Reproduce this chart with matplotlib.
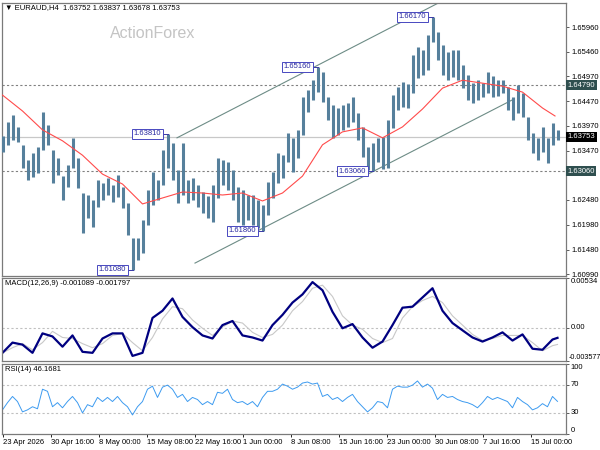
import numpy as np
import matplotlib
matplotlib.use('Agg')
import matplotlib.pyplot as plt
from matplotlib.transforms import blended_transform_factory

plt.rcParams['font.family'] = ['Liberation Sans', 'DejaVu Sans']

# EURAUD H4, one entry per group of ~3 bars
bar_high = [1.6377, 1.6405, 1.6419, 1.6395, 1.6359, 1.6328, 1.6342, 1.6355, 1.6425, 1.6399,
            1.6349, 1.6332, 1.6296, 1.6318, 1.6373, 1.6332, 1.6262, 1.6258, 1.6248, 1.6288,
            1.6282, 1.6292, 1.6278, 1.6298, 1.6274, 1.6242, 1.6171, 1.6171, 1.6208, 1.6268,
            1.6304, 1.6288, 1.6349, 1.6381, 1.6363, 1.6308, 1.6363, 1.6288, 1.6292, 1.6278,
            1.6264, 1.6256, 1.6278, 1.6332, 1.6328, 1.6324, 1.6308, 1.6274, 1.6268, 1.6258,
            1.6258, 1.6248, 1.6238, 1.6284, 1.6304, 1.6342, 1.6338, 1.6383, 1.6373, 1.6389,
            1.6455, 1.6469, 1.6489, 1.6516, 1.6505, 1.6455, 1.6439, 1.6433, 1.6439, 1.6443,
            1.6455, 1.6423, 1.6395, 1.6355, 1.6363, 1.6373, 1.6375, 1.6409, 1.6459, 1.6475,
            1.6485, 1.6481, 1.6540, 1.6556, 1.6550, 1.6580, 1.6617, 1.6586, 1.6560, 1.6546,
            1.6550, 1.6550, 1.6520, 1.6499, 1.6483, 1.6489, 1.6483, 1.6505, 1.6497, 1.6489,
            1.6489, 1.6475, 1.6455, 1.6479, 1.6463, 1.6415, 1.6383, 1.6373, 1.6395, 1.6373,
            1.6403, 1.6389]
bar_low = [1.6345, 1.6359, 1.6369, 1.6365, 1.6312, 1.6288, 1.6294, 1.6302, 1.6349, 1.6359,
           1.6282, 1.6298, 1.6248, 1.6274, 1.6312, 1.6272, 1.6182, 1.6212, 1.6194, 1.6234,
           1.6248, 1.6258, 1.6244, 1.6254, 1.6232, 1.6178, 1.6108, 1.6127, 1.6141, 1.6198,
           1.6238, 1.6248, 1.6278, 1.6312, 1.6288, 1.6242, 1.6258, 1.6242, 1.6248, 1.6234,
           1.6222, 1.6212, 1.6204, 1.6252, 1.6278, 1.6268, 1.6248, 1.6204, 1.6198, 1.6208,
           1.6198, 1.6192, 1.6186, 1.6218, 1.6252, 1.6282, 1.6292, 1.6324, 1.6304, 1.6332,
           1.6379, 1.6425, 1.6449, 1.6465, 1.6445, 1.6409, 1.6373, 1.6379, 1.6389, 1.6395,
           1.6405, 1.6369, 1.6334, 1.6308, 1.6306, 1.6324, 1.6310, 1.6312, 1.6393, 1.6429,
           1.6435, 1.6433, 1.6463, 1.6493, 1.6499, 1.6509, 1.6566, 1.6530, 1.6499, 1.6489,
           1.6495, 1.6489, 1.6473, 1.6449, 1.6443, 1.6449, 1.6455, 1.6463, 1.6455, 1.6457,
           1.6463, 1.6429, 1.6409, 1.6423, 1.6415, 1.6369, 1.6342, 1.6328, 1.6345, 1.6322,
           1.6359, 1.6369]

# red moving average, sampled every 4 groups
ma_pos = list(range(0, 112, 4)) + [110.5]
ma_val = [1.6459, 1.6427, 1.6389, 1.6367, 1.6338, 1.6300, 1.6280, 1.6240, 1.6252, 1.6264,
          1.6262, 1.6258, 1.6262, 1.6246, 1.6262, 1.6296, 1.6359, 1.6385, 1.6393, 1.6373,
          1.6395, 1.6431, 1.6473, 1.6489, 1.6483, 1.6477, 1.6465, 1.6433, 1.6417]

# channel and levels
chan_up_x, chan_up_y = [34.9, 87.5], [1.6373, 1.6646]
chan_dn_x, chan_dn_y = [38.5, 101.9], [1.6121, 1.6449]
levels = [1.6479, 1.6306]
last_price = 1.63753
marks = [(33, 1.6381, '1.63810'), (26, 1.6108, '1.61080'), (52, 1.6186, '1.61860'),
         (63, 1.6516, '1.65160'), (74, 1.6306, '1.63060'), (86, 1.6617, '1.66170')]

price_ticks = [1.6596, 1.6546, 1.6497, 1.6447, 1.6397, 1.6347, 1.6298, 1.6248, 1.6198, 1.6148, 1.6099]

# MACD(12,26,9), sampled every 2 groups
macd_pos = list(range(0, 112, 2)) + [111]
macd_main = [-0.00270, -0.00160, -0.00182, -0.00270, -0.00061, -0.00094, -0.00204, -0.00083, -0.00259, -0.00270,
             -0.00116, -0.00061, -0.00061, -0.00303, -0.00270, 0.00105, 0.00182, 0.00314, 0.00116, 0.00006,
             -0.00083, -0.00116, 0.00028, 0.00072, -0.00083, -0.00105, -0.00138, 0.00028, 0.00138, 0.00270,
             0.00358, 0.00490, 0.00402, 0.00171, -0.00006, 0.00039, -0.00105, -0.00215, -0.00149, 0.00028,
             0.00215, 0.00226, 0.00325, 0.00424, 0.00182, 0.00050, -0.00028, -0.00105, -0.00149, -0.00105,
             -0.00050, -0.00138, -0.00072, -0.00226, -0.00237, -0.00127, -0.00109]
macd_signal = [-0.00270, -0.00215, -0.00171, -0.00237, -0.00160, -0.00039, -0.00105, -0.00116, -0.00171, -0.00215,
               -0.00171, -0.00083, -0.00061, -0.00160, -0.00248, -0.00105, 0.00094, 0.00226, 0.00204, 0.00083,
               -0.00006, -0.00083, 0.00006, 0.00072, 0.00050, -0.00050, -0.00105, -0.00072, 0.00028, 0.00182,
               0.00281, 0.00424, 0.00457, 0.00336, 0.00127, 0.00028, -0.00017, -0.00116, -0.00160, -0.00116,
               0.00105, 0.00226, 0.00292, 0.00336, 0.00270, 0.00127, 0.00028, -0.00072, -0.00138, -0.00116,
               -0.00083, -0.00083, -0.00083, -0.00160, -0.00248, -0.00193, -0.00180]

# RSI(14), one per group
rsi = [34, 44.4, 53.3, 46, 31.1, 34, 38.5, 35.6, 63.7, 60.7,
       38.5, 44.4, 37, 46, 53.3, 44.4, 29.6, 41.5, 38.5, 51.9,
       46, 51.9, 46, 53.3, 44.4, 38.5, 26.7, 38.5, 46, 63.7,
       68.1, 51.9, 66.7, 69.6, 63.7, 51.9, 56.3, 46, 51.9, 48.9,
       41.5, 46, 41.5, 59.3, 57.8, 63.7, 48.9, 44.4, 46, 41.5,
       46, 38.5, 51.9, 60.7, 60.7, 63.7, 71.1, 68.1, 63.7, 66.7,
       72.6, 74.1, 71.1, 72.6, 53.3, 56.3, 48.9, 51.9, 46, 51.9,
       56.3, 46, 38.5, 31.1, 37, 46, 44.4, 37, 63.7, 68.1,
       66.7, 66.7, 69.6, 75.6, 66.7, 71.1, 65.2, 48.9, 56.3, 51.9,
       53.3, 48.9, 46, 44.4, 41.5, 37, 44.4, 53.3, 48.9, 51.9,
       48.9, 46, 37, 51.9, 46, 41.5, 34, 37, 43, 38.5,
       53.3, 46.2]

date_labels = ['23 Apr 2026', '30 Apr 16:00', '8 May 00:00', '15 May 08:00', '22 May 16:00',
               '1 Jun 00:00', '8 Jun 08:00', '15 Jun 16:00', '23 Jun 00:00', '30 Jun 08:00',
               '7 Jul 16:00', '15 Jul 00:00']

FS = 5.5
frame = '#7a7a7a'
x = np.arange(len(bar_high))

fig = plt.figure(figsize=(6, 4.5), dpi=100)
ax = fig.add_axes([2/600, 1-276/450, 564/600, 273/450])
ax_m = fig.add_axes([2/600, 1-361/450, 564/600, 83/450], sharex=ax)
ax_r = fig.add_axes([2/600, 1-433.5/450, 564/600, 69.5/450], sharex=ax)

for a in (ax, ax_m, ax_r):
    for s in a.spines.values():
        s.set_color(frame)
        s.set_linewidth(0.9)
    a.yaxis.tick_right()
    a.tick_params(axis='y', length=2.5, width=0.6, color='#404040', labelsize=FS, pad=1.5)
    a.tick_params(axis='x', length=0, labelbottom=False)

# price panel
ax.axhline(last_price, color='#c8c8c8', lw=0.9, zorder=1)
for lv in levels:
    ax.axhline(lv, color='#808080', lw=0.8, ls=(0, (2, 2)), zorder=1)
ax.plot(chan_up_x, chan_up_y, color='#6d8c86', lw=0.8, zorder=2)
ax.plot(chan_dn_x, chan_dn_y, color='#6d8c86', lw=0.8, zorder=2)
ax.vlines(x, bar_low, bar_high, color='#56809c', lw=2.2, zorder=3)
ax.plot(ma_pos, ma_val, color='#ff4b4b', lw=0.8, zorder=4)

for i, p, t in marks:
    ax.plot([i - 1.3, i], [p, p], color='#3a3aa8', lw=0.7, zorder=5)
    ax.text(i - 1.3, p, t, ha='right', va='center', fontsize=FS, color='#2828a0', zorder=6,
            bbox=dict(boxstyle='square,pad=0.2', fc='white', ec='#4848c0', lw=0.7))

ax.set_xlim(-0.1, 112.7)
ax.set_ylim(1.6095, 1.66443)
ax.set_yticks(price_ticks)
# 1.62980 sits under the 1.63060 level box in the reference
ax.set_yticklabels(['' if abs(v - 1.6298) < 1e-6 else '%.5f' % v for v in price_ticks])

tr = blended_transform_factory(ax.transAxes, ax.transData)
for p, t, bg in [(1.6479, '1.64790', '#2f4f4f'), (last_price, '1.63753', 'black'), (1.6306, '1.63060', '#2f4f4f')]:
    ax.text(1.003, p, t, transform=tr, ha='left', va='center', fontsize=FS, color='white', clip_on=False,
            bbox=dict(boxstyle='square,pad=0.18', fc=bg, ec='none'))

ax.text(0.006, 0.985, '\u25bc EURAUD,H4  1.63752 1.63837 1.63678 1.63753', transform=ax.transAxes,
        ha='left', va='center', fontsize=FS, color='black')
ax.text(0.268, 0.89, 'ActionForex', transform=ax.transAxes, ha='center', va='center',
        fontsize=11.5, color='#c4c4c4')

# MACD panel
ax_m.axhline(0, color='#c0c0c0', lw=0.8, ls=(0, (2, 2)))
ax_m.plot(macd_pos, macd_signal, color='#c8c8c8', lw=0.8)
ax_m.plot(macd_pos, macd_main, color='#000080', lw=1.6)
ax_m.set_ylim(-0.003577, 0.00534)
ax_m.set_yticks([0.00534, 0, -0.003577])
ax_m.set_yticklabels([])
trm = blended_transform_factory(ax_m.transAxes, ax_m.transData)
ax_m.text(1.008, 0.00534, '0.00534', transform=trm, ha='left', va='top', fontsize=FS)
ax_m.text(1.008, 0, '0.00', transform=trm, ha='left', va='center', fontsize=FS)
ax_m.text(1.004, -0.003577, '-0.003577', transform=trm, ha='left', va='bottom', fontsize=5.2)
ax_m.text(0.006, 0.928, 'MACD(12,26,9) -0.001089 -0.001797', transform=ax_m.transAxes,
          ha='left', va='center', fontsize=FS)

# RSI panel
for lv in (70, 30):
    ax_r.axhline(lv, color='#c0c0c0', lw=0.8, ls=(0, (2, 2)))
ax_r.plot(x, rsi, color='#3d9bf0', lw=0.7)
ax_r.set_ylim(0, 100)
ax_r.set_yticks([100, 70, 30, 0])
ax_r.set_yticklabels([])
trr = blended_transform_factory(ax_r.transAxes, ax_r.transData)
ax_r.text(1.008, 100, '100', transform=trr, ha='left', va='top', fontsize=FS)
ax_r.text(1.008, 70, '70', transform=trr, ha='left', va='center', fontsize=FS)
ax_r.text(1.008, 30, '30', transform=trr, ha='left', va='center', fontsize=FS)
ax_r.text(1.008, 0, '0', transform=trr, ha='left', va='bottom', fontsize=FS)
ax_r.text(0.006, 0.928, 'RSI(14) 46.1681', transform=ax_r.transAxes,
          ha='left', va='center', fontsize=FS)

ax_r.set_xticks(0.1 + 9.6 * np.arange(len(date_labels)))
ax_r.set_xticklabels(date_labels, ha='left')
ax_r.tick_params(axis='x', length=2.5, width=0.6, labelbottom=True, labelsize=FS, pad=1.5)

fig.savefig('out.png', dpi=100)
